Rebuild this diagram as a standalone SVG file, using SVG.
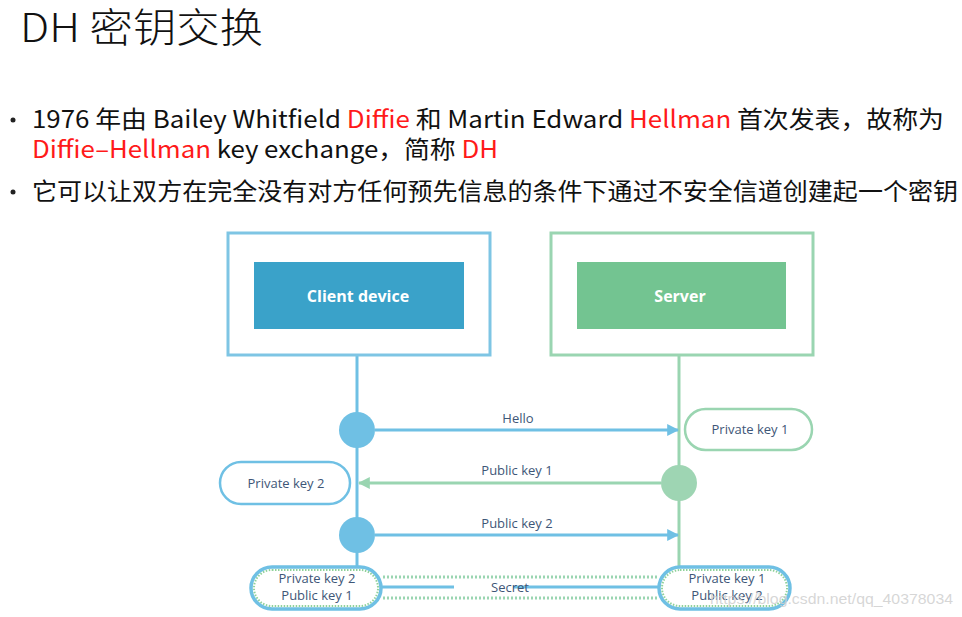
<svg xmlns="http://www.w3.org/2000/svg" width="962" height="617" viewBox="0 0 962 617">
<defs>
<style>
.cjk{font-family:"Noto Sans CJK SC","Liberation Sans",sans-serif;fill:#111}
.red{fill:#ff1a1a}
.lbl{font-family:"Open Sans","Liberation Sans",sans-serif;font-size:13px;fill:#3e5677;text-anchor:middle}
.head{font-family:"Open Sans","Liberation Sans",sans-serif;font-size:16px;font-weight:700;fill:#fff;text-anchor:middle}
.blue{stroke:#6fc0e4}
.green{stroke:#9ad5b1}
</style>
<marker id="ab" viewBox="0 0 10 10" refX="9" refY="5" markerWidth="4" markerHeight="4" orient="auto"><path d="M0,0 L10,5 L0,10 z" fill="#6fc0e4"/></marker>
<marker id="ag" viewBox="0 0 10 10" refX="9" refY="5" markerWidth="4" markerHeight="4" orient="auto"><path d="M0,0 L10,5 L0,10 z" fill="#9ad5b1"/></marker>
</defs>
<rect width="962" height="617" fill="#fff"/>
<text class="cjk" x="20" y="42" font-size="40" font-weight="300" textLength="243" lengthAdjust="spacingAndGlyphs">DH 密钥交换</text>
<g class="cjk" font-size="24">
<circle cx="13" cy="120" r="2.5" fill="#222"/>
<text x="32" y="128" textLength="912" lengthAdjust="spacingAndGlyphs">1976 年由 Bailey Whitfield <tspan class="red">Diffie</tspan> 和 Martin Edward <tspan class="red">Hellman</tspan> 首次发表，故称为</text>
<text x="32" y="158" textLength="466" lengthAdjust="spacingAndGlyphs"><tspan class="red">Diffie–Hellman</tspan> key exchange，简称 <tspan class="red">DH</tspan></text>
<circle cx="13" cy="192" r="2.5" fill="#222"/>
<text x="32" y="200" textLength="926" lengthAdjust="spacingAndGlyphs">它可以让双方在完全没有对方任何预先信息的条件下通过不安全信道创建起一个密钥</text>
</g>
<g id="connectors" fill="none" stroke-width="3">
<line class="blue" x1="357" y1="356" x2="357" y2="567"/>
<line class="green" x1="679" y1="356" x2="679" y2="567"/>
<line class="blue" x1="375" y1="430" x2="678" y2="430" marker-end="url(#ab)"/>
<line class="green" x1="661" y1="483" x2="359" y2="483" marker-end="url(#ag)"/>
<line class="blue" x1="375" y1="535" x2="678" y2="535" marker-end="url(#ab)"/>
<line class="green" x1="383" y1="577" x2="658" y2="577" stroke-dasharray="2 2"/>
<line class="green" x1="383" y1="598" x2="658" y2="598" stroke-dasharray="2 2"/>
<line class="blue" x1="382" y1="587" x2="454" y2="587"/>
<line class="blue" x1="513" y1="587" x2="659" y2="587"/>
</g>
<g id="client">
<rect x="228" y="233" width="262" height="122" fill="#fff" stroke="#7ec5e4" stroke-width="3"/>
<rect x="254" y="262" width="210" height="67" fill="#3aa2c9"/>
<text class="head" x="358" y="302">Client device</text>
</g>
<g id="server">
<rect x="551" y="233" width="262" height="122" fill="#fff" stroke="#9ad5b1" stroke-width="3"/>
<rect x="577" y="262" width="209" height="67" fill="#73c491"/>
<text class="head" x="680" y="302">Server</text>
</g>
<g id="dot1"><circle cx="357" cy="430" r="18" fill="#6fc0e4"/></g>
<g id="dot2"><circle cx="679" cy="483" r="18" fill="#9ed5b3"/></g>
<g id="dot3"><circle cx="357" cy="535" r="18" fill="#6fc0e4"/></g>
<g id="hello"><text class="lbl" x="518" y="423">Hello</text></g>
<g id="pub1"><text class="lbl" x="517" y="475">Public key 1</text></g>
<g id="pub2"><text class="lbl" x="517" y="528">Public key 2</text></g>
<g id="priv1">
<rect x="685" y="409" width="127" height="41" rx="20.5" fill="#fff" stroke="#9ad5b1" stroke-width="2.5"/>
<text class="lbl" x="750" y="434">Private key 1</text>
</g>
<g id="priv2">
<rect x="220" y="462" width="130" height="42" rx="21" fill="#fff" stroke="#6fc0e4" stroke-width="2.5"/>
<text class="lbl" x="286" y="488">Private key 2</text>
</g>
<g id="secretL">
<rect x="251" y="567" width="130" height="42" rx="21" fill="#fff" stroke="#6fc0e4" stroke-width="3.5"/>
<rect x="254" y="570" width="124" height="36" rx="18" fill="none" stroke="#8fd19a" stroke-width="2" stroke-dasharray="1.5 1.5"/>
<text class="lbl" x="317" y="583">Private key 2</text>
<text class="lbl" x="317" y="600">Public key 1</text>
</g>
<g id="secretR">
<rect x="659" y="567" width="131" height="42" rx="21" fill="#fff" stroke="#6fc0e4" stroke-width="3.5"/>
<rect x="662" y="570" width="125" height="36" rx="18" fill="none" stroke="#8fd19a" stroke-width="2" stroke-dasharray="1.5 1.5"/>
<text class="lbl" x="727" y="583">Private key 1</text>
<text class="lbl" x="727" y="600">Public key 2</text>
</g>
<g id="secret"><text class="lbl" x="510" y="592">Secret</text></g>
<text x="710" y="604" font-family="'Liberation Sans',sans-serif" font-size="15.5" fill="#cfcfcf" fill-opacity="0.85" textLength="243" lengthAdjust="spacingAndGlyphs">https://blog.csdn.net/qq_40378034</text>
</svg>
